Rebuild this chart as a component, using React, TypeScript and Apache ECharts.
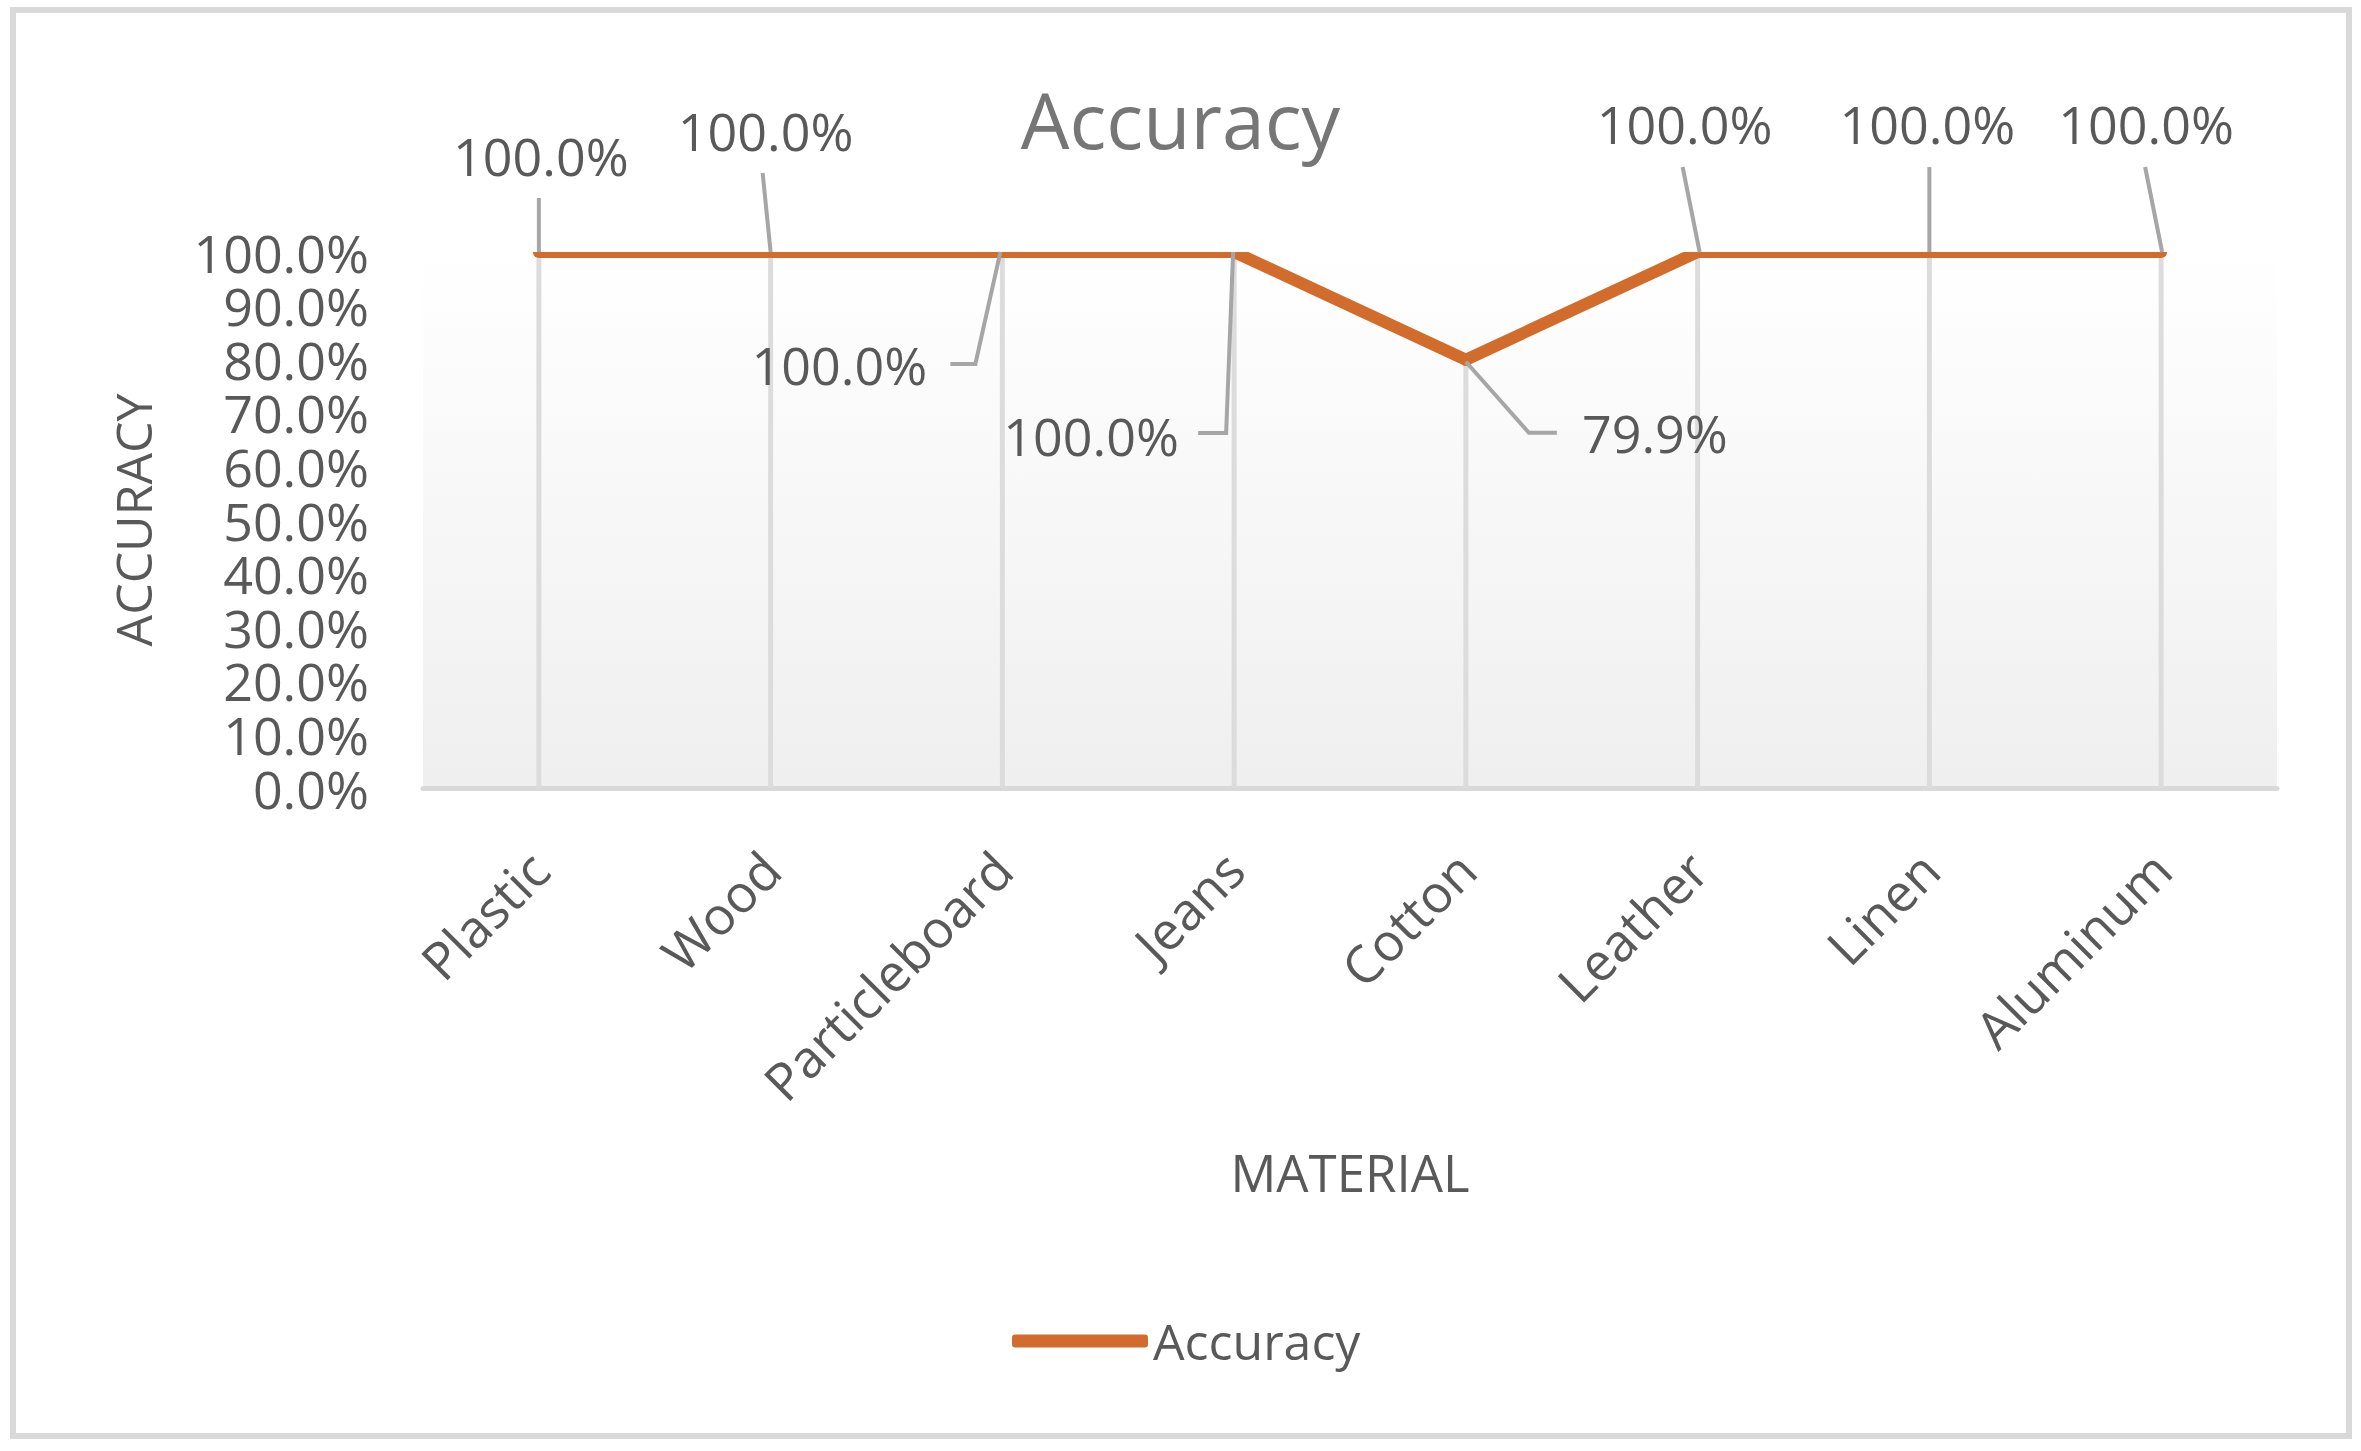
import React, { useEffect, useRef } from "react";
import * as echarts from "echarts";

// ---- data ----
const materials = ["Plastic", "Wood", "Particleboard", "Jeans", "Cotton", "Leather", "Linen", "Aluminum"];
const accuracy = [1.0, 1.0, 1.0, 1.0, 0.799, 1.0, 1.0, 1.0];
const seriesName = "Accuracy";
const yTicks = [0, 0.1, 0.2, 0.3, 0.4, 0.5, 0.6, 0.7, 0.8, 0.9, 1.0];

// ---- layout (label offsets and leader-line shapes relative to each point) ----
const labelOffsets: number[][] = [
  [2, -97], [-5, -122], [-163, 112], [-143, 183], [189, 73], [-13, -129], [-2, -129], [-15, -129],
];
const leaderShapes: number[][][] = [
  [[0, -54], [0, 0]],
  [[-8, -79], [0, 0]],
  [[-52, 112], [-27, 112], [-2, 0]],
  [[-36, 181], [-8, 181], [-1, 0]],
  [[91, 73], [63, 73], [0, 2]],
  [[-15, -85], [2, 0]],
  [[0, -85], [0, 0]],
  [[-16, -85], [1, 0]],
];

const ORANGE = "#D26C2C";
const TEXT = "#595959";
const FONT = "Open Sans";
const fmt = (v: number) => (v * 100).toFixed(1) + "%";

export default function App() {
  const ref = useRef<HTMLDivElement>(null);
  useEffect(() => {
    if (!ref.current) return;
    const chart = echarts.init(ref.current, undefined, { renderer: "svg" });
    const option: any = {
      animation: false,
      backgroundColor: "#ffffff",
      textStyle: { fontFamily: FONT },
      title: {
        text: "Accuracy",
        left: "center",
        top: 76,
        textStyle: { fontSize: 77, lineHeight: 77, fontWeight: "normal", color: "#767676", fontFamily: FONT },
      },
      legend: {
        left: 1012,
        top: 1316,
        padding: 0,
        itemWidth: 136,
        itemHeight: 13,
        data: [{ name: seriesName, icon: "roundRect", itemStyle: { color: ORANGE } }],
        textStyle: { fontSize: 50, color: TEXT, fontFamily: FONT },
      },
      grid: {
        left: 423,
        right: 84,
        top: 252,
        bottom: 663,
        show: true,
        borderWidth: 0,
        backgroundColor: new echarts.graphic.LinearGradient(0, 0, 0, 1, [
          { offset: 0, color: "#ffffff" },
          { offset: 1, color: "#efefef" },
        ]),
        containLabel: false,
        outerBoundsMode: "none",
      },
      xAxis: {
        type: "category",
        data: materials,
        boundaryGap: true,
        name: "MATERIAL",
        nameLocation: "middle",
        nameGap: 358,
        nameTextStyle: { fontSize: 51, color: TEXT, fontFamily: FONT },
        axisLine: { show: true, lineStyle: { color: "#d9d9d9", width: 5 } },
        axisTick: { show: false },
        splitLine: { show: false },
        axisLabel: {
          rotate: 45,
          margin: 72,
          padding: [14, 0, 0, 0],
          fontSize: 52,
          color: TEXT,
          fontFamily: FONT,
          interval: 0,
        },
      },
      yAxis: {
        type: "value",
        min: yTicks[0],
        max: yTicks[yTicks.length - 1],
        interval: 0.1,
        name: "ACCURACY",
        nameLocation: "middle",
        nameRotate: 90,
        nameGap: 265,
        nameTextStyle: { fontSize: 50, color: TEXT, fontFamily: FONT },
        axisLine: { show: false },
        axisTick: { show: false },
        splitLine: { show: false },
        axisLabel: {
          margin: 54,
          fontSize: 52,
          lineHeight: 40,
          color: TEXT,
          fontFamily: FONT,
          formatter: (v: number) => fmt(v),
        },
      },
      series: [
        {
          name: "dropLines",
          type: "bar",
          data: accuracy,
          barWidth: 5,
          itemStyle: { color: "#dcdcdc" },
          silent: true,
          z: 2,
        },
        {
          name: seriesName,
          type: "custom",
          clip: true,
          data: accuracy.map((v, i) => [i, v]),
          encode: { x: 0, y: 1 },
          itemStyle: { color: ORANGE },
          z: 3,
          silent: true,
          renderItem: (params: any, api: any) => {
            const i = params.dataIndex;
            if (i >= accuracy.length - 1) return { type: "group", children: [] };
            const p1 = api.coord([i, accuracy[i]]);
            const p2 = api.coord([i + 1, accuracy[i + 1]]);
            return {
              type: "line",
              shape: { x1: p1[0], y1: p1[1], x2: p2[0], y2: p2[1] },
              style: { stroke: ORANGE, lineWidth: 12, lineCap: "round" },
            };
          },
        },
        {
          name: "labels",
          type: "line",
          data: accuracy.map((v, i) => ({ value: v, label: { offset: labelOffsets[i] } })),
          symbol: "circle",
          symbolSize: 1,
          showSymbol: true,
          itemStyle: { color: "rgba(0,0,0,0)" },
          lineStyle: { width: 0, opacity: 0 },
          silent: true,
          z: 5,
          label: {
            show: true,
            position: "inside",
            fontSize: 52,
            color: TEXT,
            fontFamily: FONT,
            formatter: (p: any) => fmt(p.value),
          },
        },
      ],
      graphic: [
        {
          id: "border",
          type: "rect",
          shape: { x: 13, y: 10, width: 2336, height: 1426 },
          style: { fill: "none", stroke: "#d9d9d9", lineWidth: 6 },
          silent: true,
        },
      ],
    };
    chart.setOption(option);

    const leaders = accuracy.map((v, i) => {
      const p = chart.convertToPixel({ gridIndex: 0 }, [i, v]) as number[];
      return {
        id: "leader" + i,
        type: "polyline",
        z: 4,
        silent: true,
        shape: { points: leaderShapes[i].map((d) => [p[0] + d[0], p[1] + d[1]]) },
        style: { fill: "none", stroke: "#a6a6a6", lineWidth: 4 },
      };
    });
    chart.setOption({ graphic: leaders });

    return () => chart.dispose();
  }, []);
  return <div ref={ref} style={{ position: "fixed", left: 0, top: 0, width: 2361, height: 1451 }} />;
}
